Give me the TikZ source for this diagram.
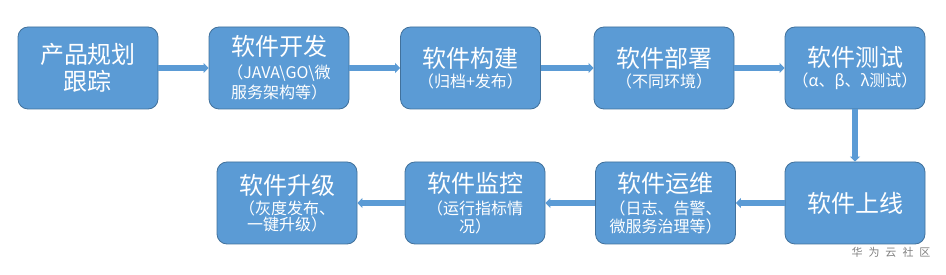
\documentclass[tikz,border=0pt]{standalone}
\usepackage{fontspec}
\setmainfont{Noto Sans CJK SC}
\usetikzlibrary{arrows.meta}
\definecolor{boxblue}{HTML}{5B9BD5}
\definecolor{boxline}{HTML}{41719C}
\newcommand{\stitle}[1]{{\fontsize{24}{24}\selectfont #1}}

\begin{document}
\begin{tikzpicture}[x=1pt, y=-1pt,
  stagebox/.style={draw=boxline, line width=0.8pt, fill=boxblue, rounded corners=10pt,
    minimum width=140pt, minimum height=82pt, text=white, align=center, inner sep=2pt,
    font=\fontsize{16}{18}\selectfont},
  flow/.style={boxblue, line width=5.5pt, -{Triangle[length=5pt, width=10pt]}}]
\useasboundingbox (0,0) rectangle (946,275);

% Top row
\node[stagebox, font=\fontsize{24}{27}\selectfont] (plan) at (88,68) {产品规划\\跟踪};
\node[stagebox] (dev) at (279,68) {\stitle{软件开发}\\[5pt]（JAVA\textbackslash GO\textbackslash 微\\[2pt]服务架构等）};
\node[stagebox] (build) at (470.5,68) {\stitle{软件构建}\\[1.5pt]（归档+发布）};
\node[stagebox] (deploy) at (664,68) {\stitle{软件部署}\\[1.5pt]（不同环境）};
\node[stagebox] (test) at (855,68) {\stitle{软件测试}\\[1.5pt]（α、β、λ测试）};

% Bottom row
\node[stagebox, font=\fontsize{24}{27}\selectfont] (online) at (855,203) {软件上线};
\node[stagebox] (ops) at (665.5,203) {\stitle{软件运维}\\[4pt]（日志、告警、\\微服务治理等）};
\node[stagebox] (monitor) at (475,203) {\stitle{软件监控}\\[4pt]（运行指标情\\况）};
\node[stagebox] (upgrade) at (287,203) {\stitle{软件升级}\\[2.5pt]（灰度发布、\\[-2pt]一键升级）};

% Arrows
\draw[flow] (plan) -- (dev);
\draw[flow] (dev) -- (build);
\draw[flow] (build) -- (deploy);
\draw[flow] (deploy) -- (test);
\draw[flow] (test) -- (online);
\draw[flow] (online) -- (ops);
\draw[flow] (ops) -- (monitor);
\draw[flow] (monitor) -- (upgrade);

\node[text=gray, font=\fontsize{11}{11}\selectfont] (mark) at (891,252)
  {华\hspace{6pt}为\hspace{6pt}云\hspace{6pt}社\hspace{6pt}区};

\end{tikzpicture}
\end{document}
